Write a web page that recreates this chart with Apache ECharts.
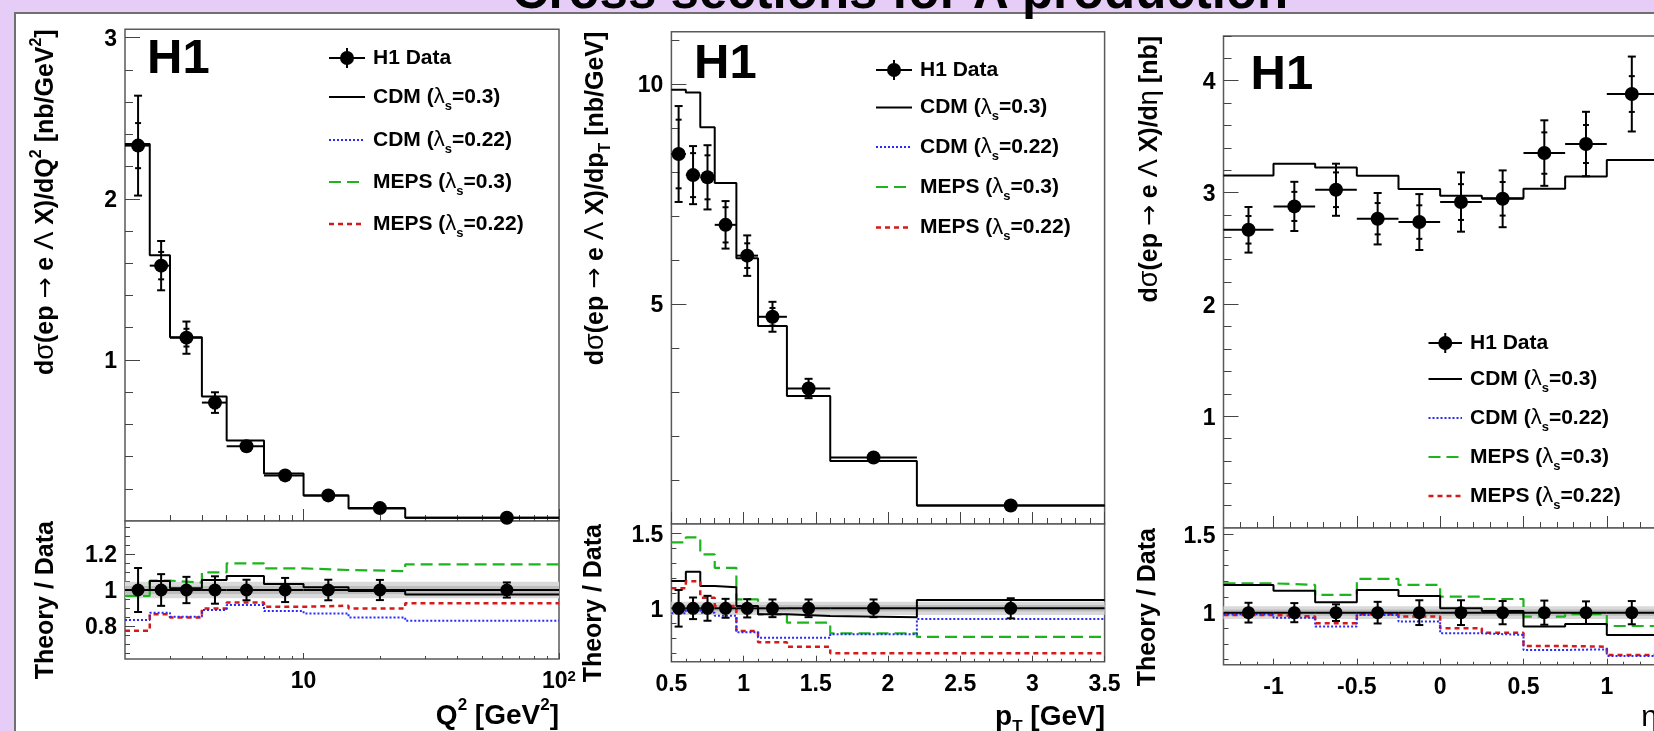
<!DOCTYPE html>
<html><head><meta charset="utf-8">
<script src="https://cdn.jsdelivr.net/npm/echarts@6/dist/echarts.min.js"></script>
<style>html,body{margin:0;padding:0;background:#e6cdf8;} #c{width:1654px;height:731px;}</style>
</head><body><div id="c"></div>
<script>
const FONT = '"Liberation Sans", Arial, Helvetica, sans-serif';

// ---------------- Panel 1 : Q^2 ----------------
const q2Edges   = [2, 2.5, 3, 4, 5, 7, 10, 15, 25, 100];
const q2Centers = [2.25, 2.77, 3.48, 4.5, 5.98, 8.47, 12.5, 19.9, 62.5];
const q2Data    = [2.33, 1.585, 1.138, 0.735, 0.464, 0.283, 0.159, 0.080, 0.020];
const q2ErrTot  = [0.31, 0.153, 0.10, 0.064, 0.026, 0.019, 0.009, 0.005, 0.001];
const q2ErrStat = [0.14, 0.085, 0.055, 0.035, 0.013, 0.010, 0.005, 0.003, 0.001];
const q2CDM03   = [2.34, 1.65, 1.14, 0.773, 0.50, 0.295, 0.159, 0.078, 0.02];
const q2RatioData = [1, 1, 1, 1, 1, 1, 1, 1, 1];
const q2RatioErr  = [0.122, 0.088, 0.073, 0.076, 0.057, 0.067, 0.057, 0.056, 0.042];
const q2RCDM03   = [1.0, 1.05, 1.01, 1.056, 1.078, 1.033, 1.015, 0.994, 0.975];
const q2RCDM022  = [0.833, 0.874, 0.852, 0.889, 0.917, 0.883, 0.87, 0.848, 0.83];
const q2RMEPS03  = [0.967, 1.052, 1.041, 1.098, 1.148, 1.12, 1.111, 1.105, 1.142];
const q2RMEPS022 = [0.774, 0.865, 0.848, 0.898, 0.931, 0.907, 0.913, 0.898, 0.926];
const q2BandOuter = [0.954, 1.046];
const q2BandInner = [0.978, 1.022];

// ---------------- Panel 2 : pT ----------------
const ptEdges   = [0.5, 0.6, 0.7, 0.8, 0.95, 1.1, 1.3, 1.6, 2.2, 3.5];
const ptCenters = [0.55, 0.65, 0.75, 0.875, 1.025, 1.2, 1.45, 1.9, 2.85];
const ptData    = [8.41, 7.93, 7.88, 6.80, 6.10, 4.71, 3.08, 1.51, 0.42];
const ptErrTot  = [1.09, 0.66, 0.73, 0.54, 0.46, 0.34, 0.22, 0.09, 0.03];
const ptErrStat = [0.78, 0.50, 0.50, 0.40, 0.28, 0.20, 0.12, 0.05, 0.02];
const ptCDM03   = [9.87, 9.81, 9.02, 7.75, 6.04, 4.50, 2.91, 1.43, 0.42];
const ptRatioData = [1, 1, 1, 1, 1, 1, 1, 1, 1];
const ptRatioErr  = [0.122, 0.072, 0.083, 0.063, 0.061, 0.059, 0.059, 0.059, 0.067];
const ptRCDM03   = [1.182, 1.244, 1.149, 1.14, 1.015, 0.96, 0.949, 0.94, 1.055];
const ptRCDM022  = [0.967, 0.99, 0.97, 0.95, 0.84, 0.804, 0.804, 0.827, 0.929];
const ptRMEPS03  = [1.44, 1.473, 1.36, 1.27, 1.06, 0.96, 0.904, 0.833, 0.81];
const ptRMEPS022 = [1.133, 1.18, 1.07, 1.015, 0.849, 0.773, 0.744, 0.70, 0.70];
const ptBandOuter = [0.956, 1.044];
const ptBandInner = [0.978, 1.022];

// ---------------- Panel 3 : eta ----------------
const etaEdges   = [-1.3, -1.0, -0.75, -0.5, -0.25, 0, 0.25, 0.5, 0.75, 1.0, 1.3];
const etaCenters = [-1.15, -0.875, -0.625, -0.375, -0.125, 0.125, 0.375, 0.625, 0.875, 1.15];
const etaData    = [2.667, 2.876, 3.025, 2.766, 2.736, 2.915, 2.944, 3.353, 3.434, 3.881];
const etaErrTot  = [0.204, 0.22, 0.233, 0.23, 0.25, 0.265, 0.254, 0.293, 0.288, 0.335];
const etaErrStat = [0.123, 0.13, 0.155, 0.14, 0.15, 0.16, 0.15, 0.185, 0.17, 0.16];
const etaCDM03   = [3.153, 3.258, 3.225, 3.15, 3.031, 2.971, 2.95, 3.034, 3.144, 3.29];
const etaRatioData = [1, 1, 1, 1, 1, 1, 1, 1, 1, 1];
const etaRatioErr  = [0.063, 0.061, 0.053, 0.069, 0.079, 0.079, 0.074, 0.077, 0.072, 0.074];
const etaRCDM03   = [1.177, 1.14, 1.066, 1.145, 1.107, 1.028, 1.011, 0.911, 0.928, 0.858];
const etaRCDM022  = [0.99, 0.968, 0.911, 0.985, 0.943, 0.868, 0.858, 0.762, 0.766, 0.724];
const etaRMEPS03  = [1.187, 1.177, 1.113, 1.215, 1.177, 1.102, 1.087, 0.975, 0.99, 0.915];
const etaRMEPS022 = [0.985, 0.975, 0.932, 0.99, 0.975, 0.90, 0.872, 0.787, 0.783, 0.73];
const etaBandOuter = [0.959, 1.041];
const etaBandInner = [0.98, 1.02];

// ---------------- tick values ----------------
const q2XMajor = [10, 100];
const q2XMinor = [3, 4, 5, 6, 7, 8, 9, 20, 30, 40, 50, 60, 70, 80, 90];
const q2YMajor = [1, 2, 3];
const q2RYMajor = [0.8, 1, 1.2];
const ptXMajor = [0.5, 1, 1.5, 2, 2.5, 3, 3.5];
const ptYMajor = [5, 10];
const ptRYMajor = [1, 1.5];
const etaXMajor = [-1, -0.5, 0, 0.5, 1];
const etaYMajor = [1, 2, 3, 4];
const etaRYMajor = [1, 1.5];

// ---------------- labels ----------------
const legendLabels = ['H1 Data', 'CDM ({g|λ}{sub|s}=0.3)', 'CDM ({g|λ}{sub|s}=0.22)', 'MEPS ({g|λ}{sub|s}=0.3)', 'MEPS ({g|λ}{sub|s}=0.22)'];
const yTitles = ['d{g|σ}(ep {arr|→} e {g|Λ} X)/dQ{sup|2} [nb/GeV{sup|2}]', 'd{g|σ}(ep {arr|→} e {g|Λ} X)/dp{sub|T} [nb/GeV]', 'd{g|σ}(ep {arr|→} e {g|Λ} X)/d{g|η} [nb]'];
const xTitles = ['Q{sup|2} [GeV{sup|2}]', 'p{sub|T} [GeV]', '{g|η}'];
const ratioTitle = 'Theory / Data';
const mainTitle = 'Cross sections for Λ production';

function rng(a, b, s) { const out = []; for (let v = a; v <= b + 1e-9; v += s) out.push(Math.round(v * 1000) / 1000); return out; }
function minusMaj(arr, maj) { return arr.filter(v => !maj.some(m => Math.abs(m - v) < 1e-6)); }

const styles = {
  cdm03:  {color: '#000000', width: 2, dash: 'solid'},
  cdm022: {color: '#2a2aff', width: 2, dash: [2, 2]},
  meps03: {color: '#1db51d', width: 2.2, dash: [12, 6]},
  meps022:{color: '#d41a1a', width: 2.5, dash: [5, 4]}
};

const panels = [
  {edges: q2Edges, centers: q2Centers, data: q2Data, et: q2ErrTot, es: q2ErrStat, cdm: q2CDM03,
   rdata: q2RatioData, rerr: q2RatioErr, r: [q2RMEPS03, q2RCDM03, q2RMEPS022, q2RCDM022], bo: q2BandOuter, bi: q2BandInner,
   xType: 'log', xMin: 2, xMax: 100, yMax: 3.052, rMin: 0.617, rMax: 1.383,
   xMaj: q2XMajor, xMin2: q2XMinor, yMaj: q2YMajor, yMin2: minusMaj(rng(0.2, 3.0, 0.2), q2YMajor),
   ryMaj: q2RYMajor, ryMin2: minusMaj(rng(0.65, 1.35, 0.05), q2RYMajor),
   xFmt: v => (Math.abs(v - 100) < 1e-6 ? '10{sup|2}' : String(v))},
  {edges: ptEdges, centers: ptCenters, data: ptData, et: ptErrTot, es: ptErrStat, cdm: ptCDM03,
   rdata: ptRatioData, rerr: ptRatioErr, r: [ptRMEPS03, ptRCDM03, ptRMEPS022, ptRCDM022], bo: ptBandOuter, bi: ptBandInner,
   xType: 'value', xMin: 0.5, xMax: 3.5, yMax: 11.19, rMin: 0.644, rMax: 1.562,
   xMaj: ptXMajor, xMin2: minusMaj(rng(0.6, 3.4, 0.1), ptXMajor), yMaj: ptYMajor, yMin2: minusMaj(rng(1, 11, 1), ptYMajor),
   ryMaj: ptRYMajor, ryMin2: minusMaj(rng(0.7, 1.5, 0.1), ptRYMajor), xFmt: v => String(v)},
  {edges: etaEdges, centers: etaCenters, data: etaData, et: etaErrTot, es: etaErrStat, cdm: etaCDM03,
   rdata: etaRatioData, rerr: etaRatioErr, r: [etaRMEPS03, etaRCDM03, etaRMEPS022, etaRCDM022], bo: etaBandOuter, bi: etaBandInner,
   xType: 'value', xMin: -1.3, xMax: 1.3, yMax: 4.40, rMin: 0.668, rMax: 1.54,
   xMaj: etaXMajor, xMin2: minusMaj(rng(-1.2, 1.2, 0.1), etaXMajor), yMaj: etaYMajor, yMin2: minusMaj(rng(0.2, 4.4, 0.2), etaYMajor),
   ryMaj: etaRYMajor, ryMin2: minusMaj(rng(0.7, 1.5, 0.1), etaRYMajor), xFmt: v => String(v)}
];

// layout (pixels)
const layouts = [
  {left: 125, width: 434, top: 29.3, h: 491.7, rh: 138, yt: 46, yrt: 46, xtRight: 559, xtY: 716, h1x: 147, h1y: 59.5,
   lg: {x0: 329, x1: 365, tx: 373, rows: [58, 97, 140, 182, 224]}},
  {left: 671.4, width: 433.2, top: 31.7, h: 492.3, rh: 137.7, yt: 595.7, yrt: 594, xtRight: 1105, xtY: 717, h1x: 694, h1y: 64.5,
   lg: {x0: 876, x1: 912, tx: 920, rows: [70, 107.5, 147, 187, 227.5]}},
  {left: 1223.5, width: 433.3, top: 36, h: 492, rh: 136.7, yt: 1150, yrt: 1148, xtRight: 1658, xtY: 718, h1x: 1250.5, h1y: 75.5,
   lg: {x0: 1428.5, x1: 1462, tx: 1470, rows: [343, 379, 418, 457, 496]}}
];

function richSet(fs) {
  const s = Math.round(fs * 0.62);
  return {
    g:   {fontFamily: FONT, fontWeight: 'normal', fontSize: Math.round(fs * 1.06), fill: '#000', color: '#000'},
    arr: {fontFamily: '"DejaVu Sans", sans-serif', fontWeight: 'normal', fontSize: Math.round(fs * 1.0), fill: '#000', color: '#000'},
    sup: {fontFamily: FONT, fontWeight: 'bold', fontSize: s, verticalAlign: 'top', lineHeight: s, fill: '#000', color: '#000'},
    sub: {fontFamily: FONT, fontWeight: 'bold', fontSize: s, verticalAlign: 'bottom', lineHeight: s, fill: '#000', color: '#000'}
  };
}

function axis(kind, gi, type, min, max, ticks, len, labels, fmt) {
  const a = {
    type: type, gridIndex: gi, min: min, max: max, silent: true,
    position: kind === 'x' ? 'bottom' : 'left',
    axisLine: {show: false, onZero: false},
    splitLine: {show: false}, minorTick: {show: false},
    axisTick: {show: true, inside: true, length: len, customValues: ticks, lineStyle: {color: '#444', width: 1}},
    axisLabel: {show: false}
  };
  if (type === 'log') a.logBase = 10;
  if (labels) {
    a.axisLabel = {show: true, customValues: labels, formatter: fmt, margin: kind === 'x' ? 10 : 8,
      color: '#000', fontSize: 23, fontWeight: 'bold', fontFamily: FONT, lineHeight: 26,
      padding: kind === 'y' ? [4, 0, 0, 0] : 0,
      rich: {sup: {fontSize: 15, fontWeight: 'bold', fontFamily: FONT, color: '#000', verticalAlign: 'top', lineHeight: 13}}};
  }
  return a;
}

function stepSeries(xi, yi, edges, vals, st, z) {
  const d = vals.map((v, i) => [edges[i], v]);
  d.push([edges[edges.length - 1], vals[vals.length - 1]]);
  return {type: 'line', xAxisIndex: xi, yAxisIndex: yi, data: d, step: 'end', symbol: 'none', showSymbol: false,
    lineStyle: {color: st.color, width: st.width, type: st.dash, opacity: 1}, z: z, silent: true, animation: false};
}

function errRender(cap, stat) {
  return function (params, api) {
    const x = api.value(0), y = api.value(1), et = api.value(2), es = api.value(3), xl = api.value(4), xh = api.value(5);
    const c = api.coord([x, y]);
    const t = api.coord([x, y + et]), b = api.coord([x, y - et]);
    const l = api.coord([xl, y]), r = api.coord([xh, y]);
    const st = {stroke: '#000', lineWidth: 2};
    const ch = [
      {type: 'line', shape: {x1: l[0], y1: c[1], x2: r[0], y2: c[1]}, style: st},
      {type: 'line', shape: {x1: c[0], y1: t[1], x2: c[0], y2: b[1]}, style: st},
      {type: 'line', shape: {x1: c[0] - cap, y1: t[1], x2: c[0] + cap, y2: t[1]}, style: st},
      {type: 'line', shape: {x1: c[0] - cap, y1: b[1], x2: c[0] + cap, y2: b[1]}, style: st}
    ];
    if (es > 0) {
      const ts = api.coord([x, y + es]), bs = api.coord([x, y - es]);
      ch.push({type: 'line', shape: {x1: c[0] - stat, y1: ts[1], x2: c[0] + stat, y2: ts[1]}, style: st});
      ch.push({type: 'line', shape: {x1: c[0] - stat, y1: bs[1], x2: c[0] + stat, y2: bs[1]}, style: st});
    }
    return {type: 'group', children: ch};
  };
}

function bandRender(params, api) {
  const p1 = api.coord([api.value(0), api.value(3)]);
  const p2 = api.coord([api.value(1), api.value(2)]);
  return {type: 'rect', shape: {x: p1[0], y: p1[1], width: p2[0] - p1[0], height: p2[1] - p1[1]},
    style: {fill: params.dataIndex === 0 ? '#d9d9d9' : '#bdbdbd'}};
}

const option = {
  backgroundColor: '#e6cdf8', animation: false,
  grid: [], xAxis: [], yAxis: [], series: [], graphic: {elements: []}
};
const G = option.graphic.elements;

G.push({type: 'rect', z: -100, silent: true, shape: {x: 15, y: 13, width: 1700, height: 800},
  style: {fill: '#ffffff', stroke: '#707070', lineWidth: 2}});
G.push({type: 'text', z: 100, silent: true, x: 900, y: -6,
  style: {text: mainTitle, fill: '#000', fontFamily: FONT, fontWeight: 'bold', fontSize: 51, align: 'center', verticalAlign: 'middle'}});

function txt(x, y, text, fs, align, rot) {
  return {type: 'text', z: 100, silent: true, x: x, y: y, rotation: rot || 0,
    style: {text: text, fill: '#000', fontFamily: FONT, fontWeight: 'bold', fontSize: fs, align: align, verticalAlign: 'middle',
      lineHeight: fs + 10, rich: richSet(fs)}};
}

panels.forEach((P, p) => {
  const L = layouts[p];
  const gU = 2 * p, gR = 2 * p + 1;
  const gridBase = {show: true, borderColor: '#5a5a5a', borderWidth: 1.5, backgroundColor: '#fff', containLabel: false, outerBoundsMode: 'none'};
  option.grid.push(Object.assign({left: L.left, top: L.top, width: L.width, height: L.h}, gridBase));
  option.grid.push(Object.assign({left: L.left, top: L.top + L.h, width: L.width, height: L.rh}, gridBase));

  option.xAxis.push(axis('x', gU, P.xType, P.xMin, P.xMax, P.xMaj, 12, null));
  option.xAxis.push(axis('x', gU, P.xType, P.xMin, P.xMax, P.xMin2, 6, null));
  option.xAxis.push(axis('x', gR, P.xType, P.xMin, P.xMax, P.xMaj, 6, P.xMaj, P.xFmt));
  option.xAxis.push(axis('x', gR, P.xType, P.xMin, P.xMax, P.xMin2, 3, null));
  option.yAxis.push(axis('y', gU, 'value', 0, P.yMax, P.yMaj, 15, P.yMaj, v => String(v)));
  option.yAxis.push(axis('y', gU, 'value', 0, P.yMax, P.yMin2, 8, null));
  option.yAxis.push(axis('y', gR, 'value', P.rMin, P.rMax, P.ryMaj, 10, P.ryMaj, v => String(v)));
  option.yAxis.push(axis('y', gR, 'value', P.rMin, P.rMax, P.ryMin2, 5, null));

  const xu = 4 * p, xr = 4 * p + 2;
  // upper panel
  option.series.push(stepSeries(xu, xu, P.edges, P.cdm, styles.cdm03, 3));
  option.series.push({type: 'custom', xAxisIndex: xu, yAxisIndex: xu, z: 4, silent: true,
    renderItem: errRender(4, 3), encode: {x: 0, y: 1},
    data: P.centers.map((c, i) => [c, P.data[i], P.et[i], P.es[i], P.edges[i], P.edges[i + 1]])});
  option.series.push({type: 'scatter', xAxisIndex: xu, yAxisIndex: xu, z: 5, silent: true, symbol: 'circle', symbolSize: 14,
    itemStyle: {color: '#000', opacity: 1}, data: P.centers.map((c, i) => [c, P.data[i]])});
  // ratio panel
  option.series.push({type: 'custom', xAxisIndex: xr, yAxisIndex: xr, z: 1, silent: true, renderItem: bandRender,
    encode: {x: [0, 1], y: [2, 3]},
    data: [[P.xMin, P.xMax, P.bo[0], P.bo[1]], [P.xMin, P.xMax, P.bi[0], P.bi[1]]]});
  option.series.push(stepSeries(xr, xr, P.edges, P.r[0], styles.meps03, 2));
  option.series.push(stepSeries(xr, xr, P.edges, P.r[1], styles.cdm03, 2));
  option.series.push(stepSeries(xr, xr, P.edges, P.r[2], styles.meps022, 2));
  option.series.push(stepSeries(xr, xr, P.edges, P.r[3], styles.cdm022, 2));
  option.series.push({type: 'custom', xAxisIndex: xr, yAxisIndex: xr, z: 4, silent: true,
    renderItem: errRender(4, 0), encode: {x: 0, y: 1},
    data: P.centers.map((c, i) => [c, P.rdata[i], P.rerr[i], 0, P.edges[i], P.edges[i + 1]])});
  option.series.push({type: 'scatter', xAxisIndex: xr, yAxisIndex: xr, z: 5, silent: true, symbol: 'circle', symbolSize: 13,
    itemStyle: {color: '#000', opacity: 1}, data: P.centers.map((c, i) => [c, P.rdata[i]])});

  // texts
  G.push(txt(L.yt, L.top, yTitles[p], 25, 'right', Math.PI / 2));
  G.push(txt(L.yrt, L.top + L.h, ratioTitle, 25, 'right', Math.PI / 2));
  G.push(txt(L.xtRight, L.xtY, xTitles[p], 28, 'right', 0));
  G.push({type: 'text', z: 100, silent: true, x: L.h1x, y: L.h1y,
    style: {text: 'H1', fill: '#000', fontFamily: FONT, fontWeight: 'bold', fontSize: 49, align: 'left', verticalAlign: 'middle'}});

  // legend
  const lg = L.lg, xm = (lg.x0 + lg.x1) / 2, r0 = lg.rows[0];
  G.push({type: 'line', z: 100, silent: true, shape: {x1: lg.x0, y1: r0, x2: lg.x1, y2: r0}, style: {stroke: '#000', lineWidth: 2}});
  G.push({type: 'line', z: 100, silent: true, shape: {x1: xm, y1: r0 - 10, x2: xm, y2: r0 + 10}, style: {stroke: '#000', lineWidth: 2}});
  G.push({type: 'circle', z: 101, silent: true, shape: {cx: xm, cy: r0, r: 7}, style: {fill: '#000'}});
  [styles.cdm03, styles.cdm022, styles.meps03, styles.meps022].forEach((s, i) => {
    const yy = lg.rows[i + 1];
    G.push({type: 'line', z: 100, silent: true, shape: {x1: lg.x0, y1: yy, x2: lg.x1, y2: yy},
      style: {stroke: s.color, lineWidth: s.width, lineDash: s.dash === 'solid' ? null : s.dash}});
  });
  legendLabels.forEach((t, i) => G.push(txt(lg.tx, lg.rows[i], t, 21, 'left', 0)));
});

const chart = echarts.init(document.getElementById('c'), null, {renderer: 'canvas'});
chart.setOption(option);
</script></body></html>
